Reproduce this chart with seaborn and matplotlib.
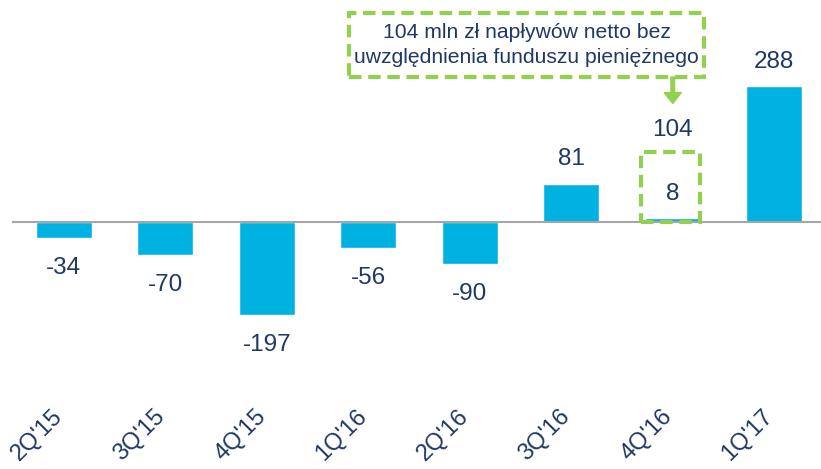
import matplotlib
matplotlib.use("Agg")
import matplotlib.pyplot as plt
import matplotlib.transforms as mtransforms
from matplotlib.patches import Rectangle, FancyArrow
import seaborn as sns
import pandas as pd
import numpy as np

categories = ["2Q'15", "3Q'15", "4Q'15", "1Q'16", "2Q'16", "3Q'16", "4Q'16", "1Q'17"]
values = [-34, -70, -197, -56, -90, 81, 8, 288]
extra_label_value = 104
note_text = "104 mln zł napływów netto bez\nuwzględnienia funduszu pieniężnego"

BAR = "#00B2E2"
TXT = "#1F3864"
GREEN = "#92D050"
AXIS = "#A6A6A6"

sns.set_theme(style="white")
plt.rcParams["font.family"] = ["Liberation Sans", "DejaVu Sans"]

df = pd.DataFrame({"q": categories, "v": values})

fig = plt.figure(figsize=(8.21, 4.69), dpi=100)
ax = fig.add_axes([13 / 821, 0, 812 / 821, 1])
sns.barplot(data=df, x="q", y="v", color=BAR, width=0.55, saturation=1, ax=ax)

ax.set_xlim(-0.5, 7.5)
ax.set_ylim(-523, 470)
for s in ["top", "right", "left"]:
    ax.spines[s].set_visible(False)
ax.spines["bottom"].set_position(("data", 0))
ax.spines["bottom"].set_color(AXIS)
ax.spines["bottom"].set_linewidth(1.5)
ax.set_yticks([])
ax.set_xlabel("")
ax.set_ylabel("")
ax.set_xticks(np.arange(len(categories)))
ax.set_xticklabels([])
ax.tick_params(axis="x", which="major", length=0)
ax.set_xticks(np.arange(-0.5, len(categories), 1.0), minor=True)
ax.tick_params(axis="x", which="minor", length=5, width=1.5, color=AXIS, direction="out")

# value labels
for i, v in enumerate(values):
    off = 17.5 if v >= 0 else -21.5
    ax.annotate(str(v), (i, v), xytext=(0, off), textcoords="offset points",
                ha="center", va="center", fontsize=17.5, color=TXT)

# extra label above the 4Q'16 bar
ax.annotate(str(extra_label_value), (6, values[6]), xytext=(0, 63.5), textcoords="offset points",
            ha="center", va="center", fontsize=17.5, color=TXT)

# category labels, rotated
for i, c in enumerate(categories):
    tr = mtransforms.offset_copy(ax.transData, fig=fig, x=-19, y=0, units="points")
    ax.text(i, -451, c, rotation=45, ha="center", va="center", fontsize=17,
            color=TXT, transform=tr, rotation_mode="anchor")

# small dashed box around 4Q'16 bar
ax.add_patch(Rectangle((6 - 0.31, 0), 0.58, 148, fill=False, edgecolor=GREEN,
                       linewidth=3, linestyle=(0, (3, 1.6)), zorder=5))

# big dashed note box
ax.add_patch(Rectangle((2.81, 307), 3.5, 136, fill=False, edgecolor=GREEN,
                       linewidth=3, linestyle=(0, (3, 1.6)), zorder=5, clip_on=False))
ax.text(4.56, 375, note_text, ha="center", va="center", fontsize=15.2, color=TXT,
        linespacing=1.38)

# arrow from note box to label
ax.add_patch(FancyArrow(6.0, 307, 0, -56, width=0.035, head_width=0.17, head_length=23,
                        length_includes_head=True, color=GREEN, zorder=5))

fig.savefig("out.png", dpi=100)
